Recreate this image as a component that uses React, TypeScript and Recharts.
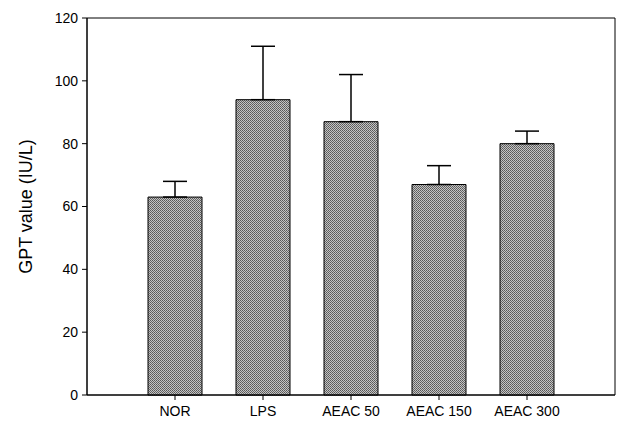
import { BarChart, Bar, XAxis, YAxis, ErrorBar, ReferenceArea } from "recharts";

const groups = ["NOR", "LPS", "AEAC 50", "AEAC 150", "AEAC 300"];
const gptMeans = [63, 94, 87, 67, 80];
const gptErrors = [5, 17, 15, 6, 4];
const yTicks = [0, 20, 40, 60, 80, 100, 120];
const xTicks = [1, 2, 3, 4, 5];

const data = groups.map((g, i) => ({
  pos: i + 1,
  group: g,
  gpt: gptMeans[i],
  err: [0, gptErrors[i]],
}));

const font = "'Liberation Sans', Arial, sans-serif";

export default function App() {
  return (
    <div style={{ position: "absolute", left: 0, top: 0 }}>
      <BarChart
        width={621}
        height={425}
        data={data}
        margin={{ top: 18, right: 6, left: 0, bottom: 0 }}
      >
        <defs>
          <pattern id="dots" width="2" height="2" patternUnits="userSpaceOnUse">
            <rect width="2" height="2" fill="#c4c4c4" />
            <rect width="1" height="1" fill="#585858" />
            <rect x="1" y="1" width="1" height="1" fill="#686868" />
          </pattern>
        </defs>
        <XAxis
          dataKey="pos"
          type="number"
          domain={[0, 6]}
          ticks={xTicks}
          tickFormatter={(v: number) => groups[v - 1] ?? ""}
          height={30}
          axisLine={{ stroke: "#000" }}
          tickLine={{ stroke: "#000" }}
          tickSize={5}
          tick={{ fill: "#000", fontSize: 14, fontFamily: font, dy: 4 }}
        />
        <YAxis
          width={87}
          domain={[0, 120]}
          ticks={yTicks}
          axisLine={{ stroke: "#000" }}
          tickLine={{ stroke: "#000" }}
          tickSize={5}
          tick={{ fill: "#000", fontSize: 14, fontFamily: font, dx: -2 }}
          label={{
            value: "GPT value (IU/L)",
            angle: -90,
            position: "insideLeft",
            offset: 26,
            style: { fill: "#000", fontSize: 18, fontFamily: font, textAnchor: "middle" },
          }}
        />
        <ReferenceArea
          x1={0}
          x2={6}
          y1={0}
          y2={120}
          fill="none"
          stroke="#000"
          strokeWidth={1}
          ifOverflow="visible"
        />
        <Bar
          dataKey="gpt"
          barSize={54}
          fill="url(#dots)"
          stroke="#000"
          strokeWidth={1}
          isAnimationActive={false}
        >
          <ErrorBar dataKey="err" width={12} stroke="#000" strokeWidth={1.5} />
        </Bar>
      </BarChart>
    </div>
  );
}
